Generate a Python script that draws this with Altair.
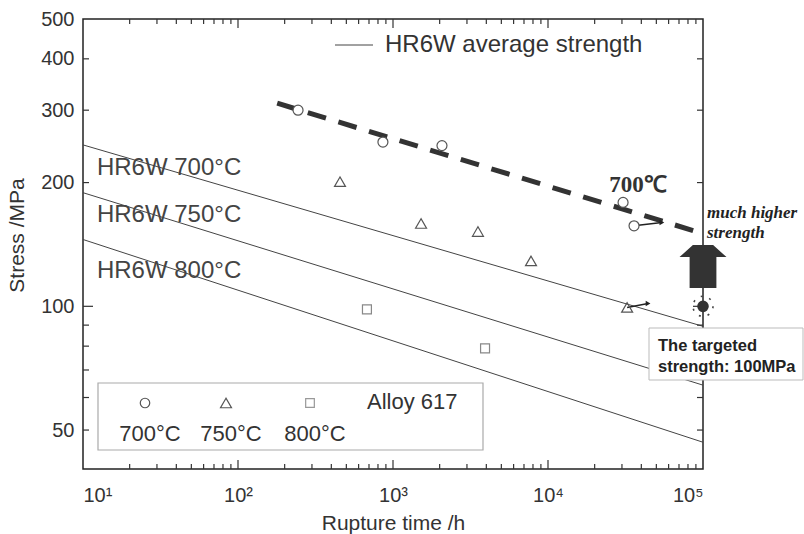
import altair as alt
import pandas as pd

W, H = 620, 450

# ---- Alloy 617 creep rupture data ----
c700_time = [244, 861, 2070, 30500, 35900]
c700_stress = [300, 251, 246, 179, 157]
c750_time = [455, 1517, 3532, 7770, 32400]
c750_stress = [201, 159, 152, 129, 99.4]
c800_time = [679, 3925]
c800_stress = [98.3, 79]

# running (unbroken) specimens: arrow end points
run_time_from = [35900, 32400]
run_stress_from = [157, 99.4]
run_time_to = [54300, 44200]
run_stress_to = [160, 101.6]

# ---- HR6W average strength lines (end points) ----
hr_time = [10, 100000]
hr700 = [247, 89.4]
hr750 = [189, 64.3]
hr800 = [145.4, 46.7]
hr_label_text = ["HR6W 700°C", "HR6W 750°C", "HR6W 800°C"]
hr_label_time = [12.3, 12.3, 12.3]
hr_label_stress = [217, 167, 121.6]

# ---- Alloy 617 700°C trend (dashed) ----
trend_time = [179, 96000]
trend_stress = [312, 151]
trend_label = ["700℃"]
trend_label_time = [38100]
trend_label_stress = [197.7]

# ---- target ----
target_time = [100000]
target_stress = [100]
arrow_time = [100000]
arrow_stress = [125]

# ---- axes ----
x_labels = [10, 100, 1000, 10000, 100000]
y_labels = [50, 100, 200, 300, 400, 500]
x_major = [100, 1000, 10000]
x_minor = [20, 30, 40, 50, 60, 70, 80, 90,
           200, 300, 400, 500, 600, 700, 800, 900,
           2000, 3000, 4000, 5000, 6000, 7000, 8000, 9000,
           20000, 30000, 40000, 50000, 60000, 70000, 80000, 90000]
y_major = [100]
y_minor = [50, 60, 70, 80, 90, 200, 300, 400]

FONT = "Liberation Sans"
xs = alt.Scale(type="log", domain=[10, 100000], nice=False)
ys = alt.Scale(type="log", domain=[40.2, 500], nice=False)

one = pd.DataFrame({"a": [0]})

x_axis = alt.Axis(values=x_labels,
                  labelExpr="datum.value == 10 ? '10¹' : datum.value == 100 ? '10²' : datum.value == 1000 ? '10³' : datum.value == 10000 ? '10⁴' : '10⁵'",
                  ticks=False, domain=False, grid=False, labelFont=FONT,
                  labelFontSize=20, labelPadding=16, labelColor="#333",
                  title="Rupture time /h", titleFont=FONT, titleFontSize=21,
                  titleFontWeight="normal", titleColor="#333", titleY=54,
                  titleBaseline="middle")
y_axis = alt.Axis(values=y_labels, format="d", ticks=False, domain=False,
                  grid=False, labelFont=FONT, labelFontSize=20, labelPadding=9,
                  labelColor="#333", title="Stress /MPa", titleFont=FONT,
                  titleFontSize=21, titleFontWeight="normal", titleColor="#333",
                  titleX=-66, titleY=216, titleAngle=270, titleBaseline="middle",
                  titleAlign="center")


def X(field):
    return alt.X(field, scale=xs, axis=x_axis)


def Y(field):
    return alt.Y(field, scale=ys, axis=y_axis)


hr_df = pd.DataFrame({
    "time": hr_time * 3,
    "stress": hr700 + hr750 + hr800,
    "series": ["700"] * 2 + ["750"] * 2 + ["800"] * 2,
})
hr_lines = alt.Chart(hr_df).mark_line(color="#444", strokeWidth=1).encode(
    x=X("time:Q"), y=Y("stress:Q"), detail="series:N")

hr_labels = alt.Chart(pd.DataFrame({
    "time": hr_label_time, "stress": hr_label_stress, "label": hr_label_text
})).mark_text(align="left", baseline="middle", font=FONT, fontSize=24,
              color="#444").encode(x=X("time:Q"), y=Y("stress:Q"), text="label:N")

trend = alt.Chart(pd.DataFrame({"time": trend_time, "stress": trend_stress})).mark_line(
    color="#333", strokeWidth=5, strokeDash=[19, 13]).encode(
    x=X("time:Q"), y=Y("stress:Q"))
trend_text = alt.Chart(pd.DataFrame({
    "time": trend_label_time, "stress": trend_label_stress, "label": trend_label
})).mark_text(font="Liberation Serif", fontSize=23, fontWeight="bold",
              color="#333", baseline="middle").encode(
    x=X("time:Q"), y=Y("stress:Q"), text="label:N")

runs = alt.Chart(pd.DataFrame({
    "time": run_time_from, "stress": run_stress_from,
    "t1": run_time_to, "s1": run_stress_to
}))
run_lines = runs.mark_rule(color="#222", strokeWidth=1.5).encode(
    x=X("time:Q"), y=Y("stress:Q"), x2="t1:Q", y2="s1:Q")
run_heads = runs.mark_point(shape="triangle-right", filled=True, color="#222",
                            size=30, opacity=1).encode(x=X("t1:Q"), y=Y("s1:Q"))

pts700 = alt.Chart(pd.DataFrame({"time": c700_time, "stress": c700_stress})).mark_point(
    shape="circle", size=100, fill="white", filled=True, stroke="#555",
    strokeWidth=1.2, opacity=1).encode(x=X("time:Q"), y=Y("stress:Q"))
pts750 = alt.Chart(pd.DataFrame({"time": c750_time, "stress": c750_stress})).mark_point(
    shape="triangle-up", size=120, filled=False, stroke="#555",
    strokeWidth=1.2, opacity=1).encode(x=X("time:Q"), y=Y("stress:Q"))
pts800 = alt.Chart(pd.DataFrame({"time": c800_time, "stress": c800_stress})).mark_point(
    shape="square", size=80, filled=False, stroke="#888",
    strokeWidth=1.2, opacity=1).encode(x=X("time:Q"), y=Y("stress:Q"))


# inward tick marks on all four sides
def xticks(vals, y0, y1):
    return alt.Chart(pd.DataFrame({"time": vals})).mark_rule(color="#333", strokeWidth=1.2).encode(
        x=X("time:Q"), y=alt.value(y0), y2=alt.value(y1))


def yticks(vals, x0, x1):
    return alt.Chart(pd.DataFrame({"stress": vals})).mark_rule(color="#333", strokeWidth=1.2).encode(
        y=Y("stress:Q"), x=alt.value(x0), x2=alt.value(x1))


ticks = [
    xticks(x_major, H, H - 9), xticks(x_minor, H, H - 5),
    xticks(x_major, 0, 9), xticks(x_minor, 0, 5),
    yticks(y_major, 0, 10), yticks(y_minor, 0, 6),
    yticks(y_major, W, W - 10), yticks(y_minor, W, W - 6),
]

# target marker and arrow
ARROW = "M-0.43,-0.915 L0.43,-0.915 L1,-0.4 L0.57,-0.4 L0.57,0.915 L-0.57,0.915 L-0.57,-0.4 L-1,-0.4 Z"
arrow = alt.Chart(pd.DataFrame({"time": arrow_time, "stress": arrow_stress})).mark_point(
    shape=ARROW, size=2209, filled=True, color="#333", opacity=1).encode(
    x=X("time:Q"), y=Y("stress:Q"))
tgt = alt.Chart(pd.DataFrame({"time": target_time, "stress": target_stress}))
tgt_dot = tgt.mark_point(shape="circle", size=135, filled=True, color="#333", opacity=1).encode(
    x=X("time:Q"), y=Y("stress:Q"))
tgt_ring = tgt.mark_point(shape="circle", size=400, filled=False, stroke="#444",
                          strokeWidth=1.6, strokeDash=[2, 6.9], opacity=1).encode(
    x=X("time:Q"), y=Y("stress:Q"))

higher = alt.Chart(one).mark_text(
    text=["much higher", "strength"], align="left", baseline="middle",
    font="Liberation Serif", fontStyle="italic", fontWeight="bold",
    fontSize=17, lineHeight=20, color="#222").encode(
    x=alt.value(624), y=alt.value(194))

box = alt.Chart(one).mark_rect(fill="white", stroke="#bbb", strokeWidth=1).encode(
    x=alt.value(566), x2=alt.value(720), y=alt.value(309), y2=alt.value(361))
box_text = alt.Chart(one).mark_text(
    text=["The targeted", "strength: 100MPa"], align="left", baseline="middle",
    font=FONT, fontWeight="bold", fontSize=16.5, lineHeight=21, color="#222").encode(
    x=alt.value(575), y=alt.value(327))

# top legend
top_leg_line = alt.Chart(one).mark_rule(color="#444", strokeWidth=1).encode(
    x=alt.value(252), x2=alt.value(290), y=alt.value(26))
top_leg_text = alt.Chart(one).mark_text(
    text="HR6W average strength", align="left", baseline="middle",
    font=FONT, fontSize=24, color="#333").encode(x=alt.value(302), y=alt.value(26))

# bottom legend
leg_box = alt.Chart(one).mark_rect(fill="white", stroke="#aaa", strokeWidth=1.2).encode(
    x=alt.value(15), x2=alt.value(400), y=alt.value(364), y2=alt.value(431))
leg_labels = ["700°C", "750°C", "800°C"]
leg_shapes = ["circle", "triangle-up", "square"]
leg_sizes = [90, 120, 75]
leg_strokes = ["#555", "#555", "#999"]
leg_x = [62, 143, 227]
leg_layers = [leg_box]
for lab, shp, sz, sc, px in zip(leg_labels, leg_shapes, leg_sizes, leg_strokes, leg_x):
    leg_layers.append(alt.Chart(one).mark_point(
        shape=shp, size=sz, filled=False, stroke=sc, strokeWidth=1.2, opacity=1).encode(
        x=alt.value(px), y=alt.value(384)))
    leg_layers.append(alt.Chart(one).mark_text(
        text=lab, align="center", baseline="middle", font=FONT, fontSize=22,
        color="#333").encode(x=alt.value(px + 5), y=alt.value(415)))
leg_layers.append(alt.Chart(one).mark_text(
    text="Alloy 617", align="left", baseline="middle", font=FONT, fontSize=22,
    color="#333").encode(x=alt.value(284), y=alt.value(383)))

chart = alt.layer(
    hr_lines, hr_labels, trend, *ticks, run_lines, run_heads,
    pts700, pts750, pts800, trend_text, arrow, tgt_ring, tgt_dot,
    higher, top_leg_line, top_leg_text, *leg_layers, box, box_text,
).properties(
    width=W, height=H,
    autosize=alt.AutoSizeParams(type="none"),
    padding={"left": 83, "top": 19, "right": 101, "bottom": 65},
    background="white",
).configure_view(stroke="#222", strokeWidth=1.5)

chart.save("out.html", embed_options={"renderer": "svg", "actions": False})
